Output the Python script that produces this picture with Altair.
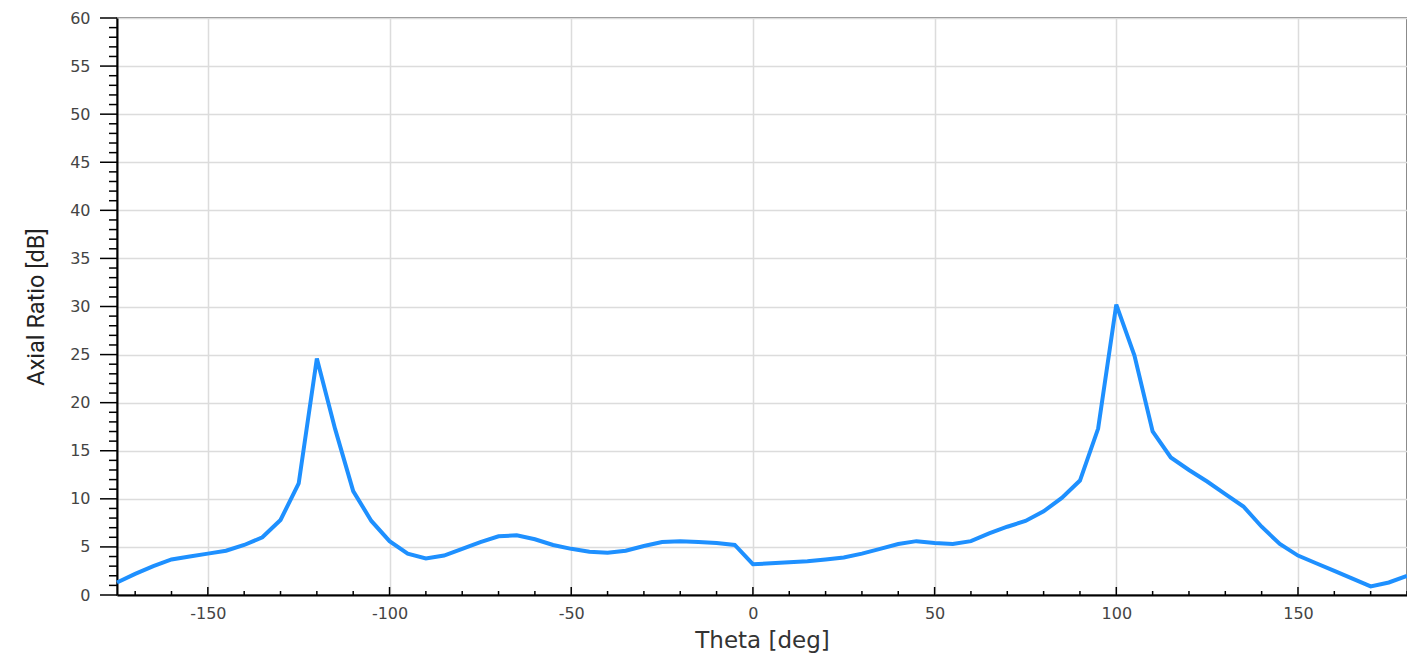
import altair as alt
import pandas as pd

theta = [-175, -170, -165, -160, -155, -150, -145, -140, -135, -130, -125, -120,
         -115, -110, -105, -100, -95, -90, -85, -80, -75, -70, -65, -60, -55, -50,
         -45, -40, -35, -30, -25, -20, -15, -10, -5, 0, 5, 10, 15, 20, 25, 30, 35,
         40, 45, 50, 55, 60, 65, 70, 75, 80, 85, 90, 95, 100, 105, 110, 115, 120,
         125, 130, 135, 140, 145, 150, 155, 160, 165, 170, 175, 180]
axial_ratio = [1.3, 2.2, 3.0, 3.7, 4.0, 4.3, 4.6, 5.2, 6.0, 7.8, 11.6, 24.6,
               17.3, 10.8, 7.7, 5.6, 4.3, 3.8, 4.1, 4.8, 5.5, 6.1, 6.2, 5.8, 5.2, 4.8,
               4.5, 4.4, 4.6, 5.1, 5.5, 5.6, 5.5, 5.4, 5.2, 3.2, 3.3, 3.4, 3.5, 3.7, 3.9, 4.3, 4.8,
               5.3, 5.6, 5.4, 5.3, 5.6, 6.4, 7.1, 7.7, 8.7, 10.1, 11.9, 17.3, 30.2, 24.9, 17.0, 14.3, 13.0,
               11.8, 10.5, 9.2, 7.1, 5.3, 4.1, 3.3, 2.5, 1.7, 0.9, 1.3, 2.0]

x_major_ticks = [-150, -100, -50, 0, 50, 100, 150]
x_minor_ticks = [v for v in range(-170, 181, 10) if v % 50 != 0]
y_major_ticks = list(range(0, 61, 5))
y_minor_ticks = [v for v in range(0, 61) if v % 5 != 0]

W, H = 1290, 577

df = pd.DataFrame({"theta": theta, "ar": axial_ratio})

xscale = alt.Scale(domain=[-175, 180], nice=False, zero=False)
yscale = alt.Scale(domain=[0, 60], nice=False, zero=False)

xaxis = alt.Axis(values=x_major_ticks, ticks=False, labelPadding=10, labelFontSize=16,
                 labelColor="#444", labelFont="DejaVu Sans", labelExpr="toString(datum.value)",
                 domainColor="#000", domainWidth=2,
                 gridColor="#dcdcdc", gridWidth=1.5, title="Theta [deg]", titleFontSize=23,
                 titleFont="DejaVu Sans", titleColor="#333", titleFontWeight=500, titlePadding=8)
yaxis = alt.Axis(values=y_major_ticks, ticks=False, labelPadding=27, labelFontSize=16,
                 labelColor="#444", labelFont="DejaVu Sans", domainColor="#000", domainWidth=2,
                 gridColor="#dcdcdc", gridWidth=1.5, title="Axial Ratio [dB]", titleFontSize=23.5,
                 titleFont="Liberation Sans Narrow, Roboto, sans-serif", titleColor="#222",
                 titleFontWeight="normal", titlePadding=21)

line = alt.Chart(df).mark_line(color="#1e90ff", strokeWidth=4).encode(
    x=alt.X("theta:Q", scale=xscale, axis=xaxis),
    y=alt.Y("ar:Q", scale=yscale, axis=yaxis),
)

xmaj = alt.Chart(pd.DataFrame({"theta": x_major_ticks})).mark_rule(color="#000", strokeWidth=1.5).encode(
    x=alt.X("theta:Q"), y=alt.value(H), y2=alt.value(H - 8))
xmin = alt.Chart(pd.DataFrame({"theta": x_minor_ticks})).mark_rule(color="#000", strokeWidth=1.5).encode(
    x=alt.X("theta:Q"), y=alt.value(H), y2=alt.value(H - 4))
ymaj = alt.Chart(pd.DataFrame({"ar": y_major_ticks})).mark_rule(color="#000", strokeWidth=1.5).encode(
    y=alt.Y("ar:Q"), x=alt.value(-17), x2=alt.value(0))
ymin = alt.Chart(pd.DataFrame({"ar": y_minor_ticks})).mark_rule(color="#000", strokeWidth=1.5).encode(
    y=alt.Y("ar:Q"), x=alt.value(-8), x2=alt.value(0))

chart = alt.layer(line, xmaj, xmin, ymaj, ymin).properties(
    width=W, height=H,
    autosize=alt.AutoSizeParams(type="none"),
    padding={"left": 109, "top": 10, "right": 0, "bottom": 60},
).configure_view(stroke="#666", strokeWidth=1.5)

chart.save("out.html", embed_options={"renderer": "svg", "actions": False})
